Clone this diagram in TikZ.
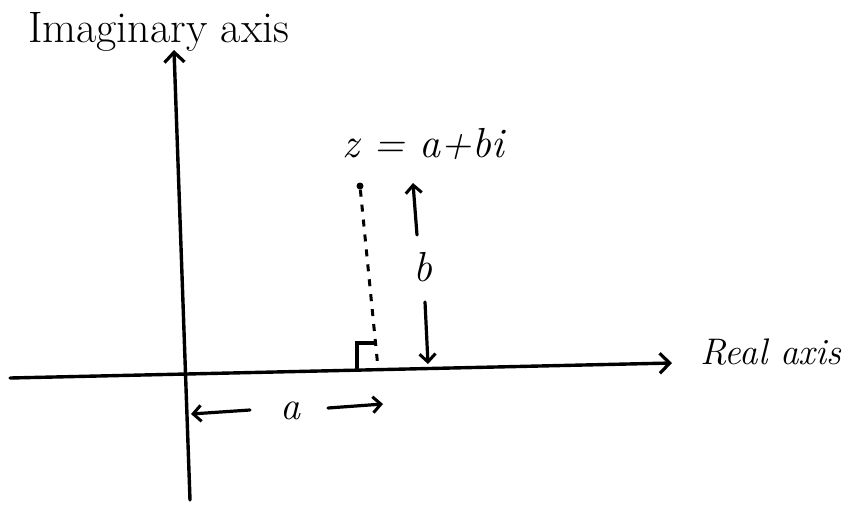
\documentclass[tikz,border=0pt]{standalone}
\usepackage{fontspec}
\usetikzlibrary{arrows.meta}
\begin{document}
\begin{tikzpicture}[x=1pt,y=-1pt,
  axis/.style={line width=3.4pt, line cap=round, -{Straight Barb[length=10pt,width=20pt,line width=3.2pt]}},
  dimarrow/.style={line width=3.2pt, line cap=round, -{Straight Barb[length=8pt,width=16pt,line width=3pt]}},
  lbl/.style={inner sep=0pt, font=\fontsize{44}{50}\selectfont},
  dashline/.style={line width=3pt, dash pattern=on 7pt off 8pt},
  thin/.style={line width=3.2pt, line cap=round}]
\useasboundingbox (0,0) rectangle (861,504);
% axes
\coordinate (xl) at (10,378);
\coordinate (xr) at (672,363);
\coordinate (yb) at (190,500);
\coordinate (yt) at (174,50);
\draw[axis] (xl) -- (xr);
\draw[axis] (yb) -- (yt);
% labels
\node[lbl, anchor=west] (imag) at (28,32) {Imaginary axis};
\node[lbl, anchor=west, font=\itshape\fontsize{37}{44}\selectfont] (real) at (700,352) {Real axis};
% point z
\node[circle, fill, inner sep=0pt, minimum size=7pt] (z) at (360,186) {};
\coordinate (foot) at (378,368);
\draw[dashline] (z) -- (foot);
% right angle
\coordinate (ra1) at (357,368);
\coordinate (ra2) at (357,343);
\coordinate (ra3) at (375,343);
\draw[thin] (ra1) -- (ra2) -- (ra3);
\node[lbl, anchor=base west, font=\itshape\fontsize{42}{48}\selectfont] (zlab) at (342,157) {z = a+bi};
% b arrows
\node[lbl, font=\itshape\fontsize{42}{48}\selectfont] (b) at (423,267) {b};
\coordinate (bu1) at (417,235);
\coordinate (bu2) at (413,183);
\coordinate (bd1) at (425,302);
\coordinate (bd2) at (428,364);
\draw[dimarrow] (bu1) -- (bu2);
\draw[dimarrow] (bd1) -- (bd2);
% a arrows
\node[lbl, font=\itshape\fontsize{40}{48}\selectfont] (a) at (290,411) {a};
\coordinate (al1) at (250,410);
\coordinate (al2) at (191,414);
\coordinate (ar1) at (328,408);
\coordinate (ar2) at (383,404);
\draw[dimarrow] (al1) -- (al2);
\draw[dimarrow] (ar1) -- (ar2);
\end{tikzpicture}
\end{document}
